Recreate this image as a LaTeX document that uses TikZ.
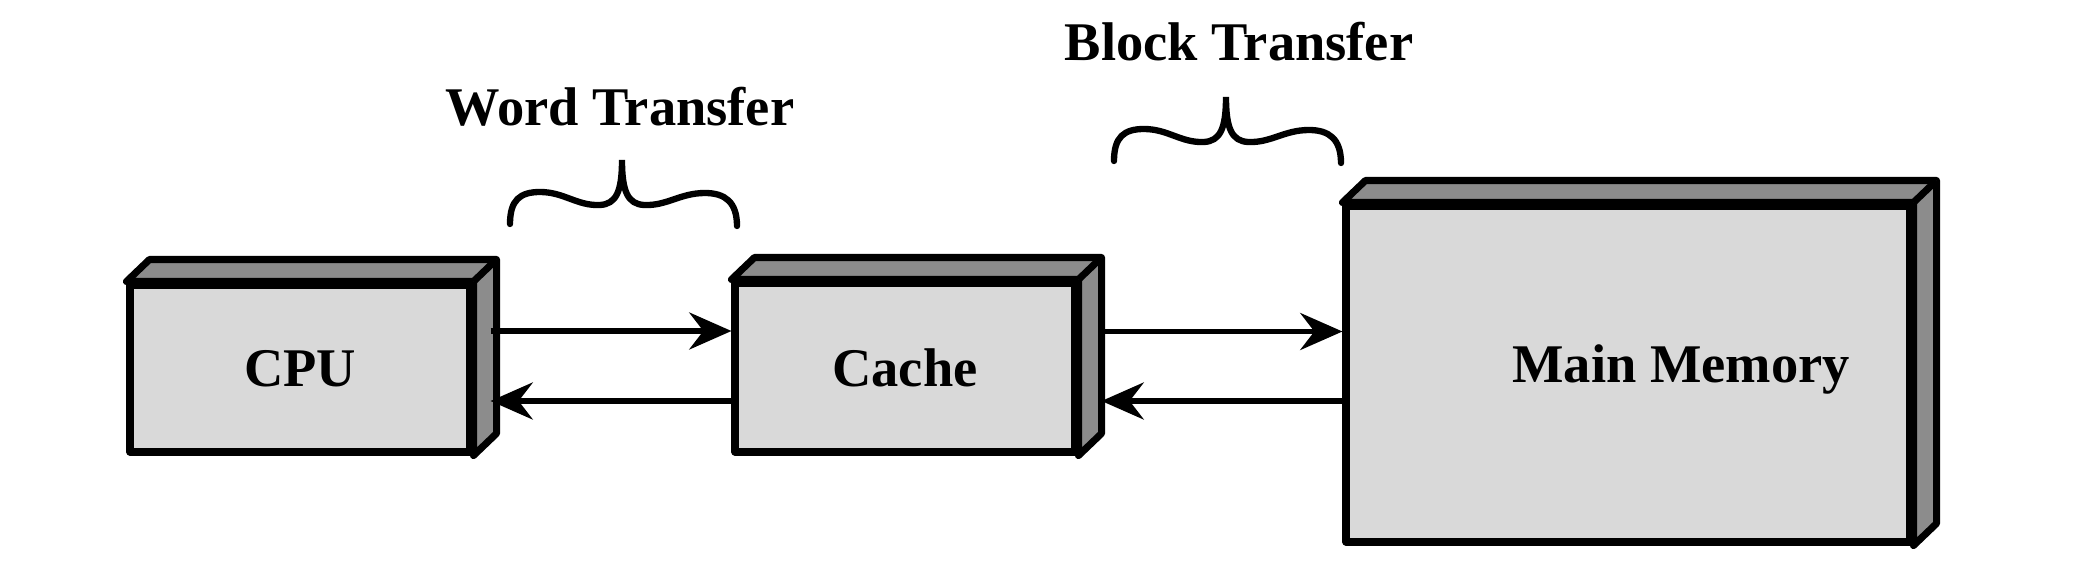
\documentclass[tikz,border=0pt]{standalone}
\usepackage{fontspec}
\setmainfont{Liberation Serif}
\usetikzlibrary{arrows.meta}

\definecolor{facegray}{gray}{0.85}
\definecolor{sidegray}{gray}{0.55}

\tikzset{
  slab/.style = {draw, fill = facegray, line width = 2pt, line join = round,
    inner sep = 0pt, font = \fontsize{15.5}{18}\selectfont\bfseries},
  rim/.style = {draw, fill = sidegray, line width = 2pt, line join = round},
  wire/.style = {line width = 1.7pt,
    -{Stealth[length = 12pt, width = 10.5pt, inset = 4pt]}},
  curly/.style = {line width = 1.8pt, line cap = round},
  caption/.style = {font = \fontsize{15.5}{18}\selectfont\bfseries, anchor = base}
}

\begin{document}
\begin{tikzpicture}
  \useasboundingbox (0, 0) rectangle (20.8, 5.68);

  \node[slab, minimum width = 3.4cm, minimum height = 1.67cm] (cpu) at (3, 1.995)
  {CPU};
  \node[slab, minimum width = 3.4cm, minimum height = 1.69cm] (cache) at (9.05, 2.005)
  {Cache};
  \node[slab, minimum width = 5.64cm, minimum height = 3.36cm] (mem) at (16.28, 1.94)
  {};
  \node[caption] (memtext) at (16.81, 1.86) {Main Memory};

  % top and side faces
  \foreach \n in {cpu, cache, mem} {
    \draw[rim] (\n.north west) -- ++(.23, .22) -- ([shift = {(.23, .22)}]\n.north east)
    -- ([shift = {(.23, .22)}]\n.south east) -- (\n.south east) -- (\n.north east) -- cycle;
    \draw[rim] (\n.north east) -- ++(.23, .22);
  }

  \draw[wire] ([shift = {(.17, .375)}]cpu.east) coordinate (a1) -- (a1 -| cache.west);
  \draw[wire] ([yshift = -.335cm]cache.west) coordinate (a2) -- ([xshift = .17cm]a2 -| cpu.east);
  \draw[wire] ([shift = {(.23, .36)}]cache.east) coordinate (a3) -- (a3 -| mem.west);
  \draw[wire] (a2 -| mem.west) coordinate (a4) -- ([xshift = .23cm]a4 -| cache.east);

  % braces
  \foreach \tip in {(6.22, 4.08), (12.26, 4.71)} {
    \draw[curly, shift = {\tip}] (-1.12, -.64) .. controls (-1.12, -.4) and (-1.02, -.32) ..
    (-.82, -.32) .. controls (-.58, -.32) and (-.45, -.46) .. (-.22, -.45) .. controls
    (-.06, -.44) and (0, -.32) .. (0, 0) .. controls (0, -.32) and (.06, -.44) ..
    (.22, -.45) .. controls (.45, -.46) and (.58, -.33) .. (.83, -.33) .. controls
    (1.03, -.33) and (1.15, -.42) .. (1.15, -.66);
  }

  \node[caption] (word) at (6.2, 4.43) {Word Transfer};
  \node[caption] (block) at (12.39, 5.08) {Block Transfer};
\end{tikzpicture}
\end{document}
